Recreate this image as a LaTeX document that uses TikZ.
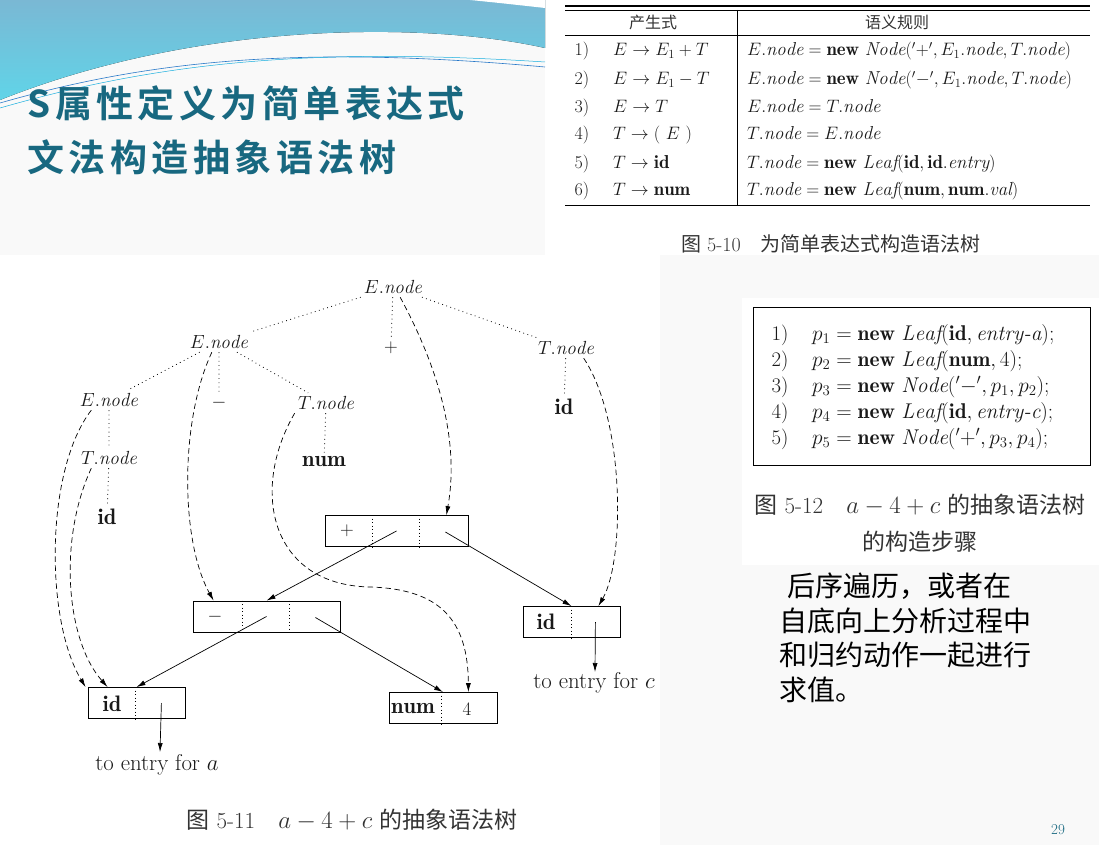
\documentclass[tikz,border=0pt]{standalone}
\usepackage{fontspec}
\usepackage{amsmath}
\usetikzlibrary{arrows.meta,calc}
\newfontfamily\cjk{Noto Sans CJK SC}
\newfontfamily\cjktitle[LetterSpace=12]{Noto Sans CJK SC Bold}
\definecolor{titleteal}{RGB}{24,104,128}
\definecolor{swtop}{RGB}{122,184,212}
\definecolor{swbot}{RGB}{96,212,232}
\definecolor{swline}{RGB}{40,120,200}
\definecolor{paper}{RGB}{249,249,249}

\begin{document}
\begin{tikzpicture}[x=1pt,y=-1pt,
	lbl/.style={font=\fontsize{17.28}{20}\selectfont, scale=1.1, inner sep=3pt, text=black!90},
	blbl/.style={font=\fontsize{20.74}{24}\selectfont, scale=1.08, inner sep=3pt, text=black!90},
	row/.style={font=\fontsize{18}{20}\selectfont, scale=1.04, anchor=base west, inner sep=0pt, text=black!90},
	rnum/.style={font=\fontsize{18}{20}\selectfont, anchor=base, inner sep=0pt, text=black!90},
	crow/.style={font=\fontsize{20.74}{24}\selectfont, scale=1.03, anchor=base west, inner sep=0pt, text=black!90},
	cnum/.style={font=\fontsize{20.74}{24}\selectfont, anchor=base, inner sep=0pt, text=black!90},
	figcap/.style={font=\fontsize{20}{37}\selectfont, text=black!80, align=center},
	tdot/.style={line width=0.8pt, dash pattern=on 0.8pt off 3.5pt},
	tdash/.style={line width=0.7pt, dash pattern=on 5.5pt off 3.5pt, -{Latex[length=9pt,width=5pt]}},
	ptr/.style={line width=0.7pt, -{Latex[length=9pt,width=5pt]}},
	recbox/.style={draw, line width=0.8pt, minimum height=31pt, inner sep=0pt},
	cdiv/.style={line width=0.6pt, dash pattern=on 1pt off 2.5pt}]
	\useasboundingbox (0,0) rectangle (1099,845);

	% page background
	\fill[paper] (0,0) rectangle (545,255);
	\fill[paper] (660,255) rectangle (1099,845);
	\fill[white] (742,298) rectangle (1099,565);
	\fill[top color=swtop, bottom color=swbot] (0,0) -- (545,0) -- (545,48) .. controls (430,22) and (200,20) .. (0,100) -- cycle;
	\fill[white] (470,0) .. controls (500,3) .. (545,8) -- (545,0) -- cycle;
	\draw[swline, line width=0.6pt] (0,103) .. controls (150,60) and (300,45) .. (545,67);
	\draw[swline!60!cyan, line width=0.5pt] (0,108) .. controls (160,62) and (310,47) .. (545,62);

	% title
	\node[anchor=west, font=\cjktitle\fontsize{37}{40}\selectfont, text=titleteal] (title1) at (24,103) {S属性定义为简单表达式};
	\node[anchor=west, font=\cjktitle\fontsize{37}{40}\selectfont, text=titleteal] (title2) at (24,157) {文法构造抽象语法树};

	% table 5-10
	\draw[line width=1.2pt] (565,6) -- (1090,6);
	\draw[line width=0.5pt] (565,10) -- (1090,10);
	\draw[line width=0.6pt] (565,35) -- (1090,35);
	\draw[line width=0.6pt] (737,10) -- (737,205);
	\draw[line width=1pt] (565,205) -- (1090,205);
	\node[font=\cjk\fontsize{16}{18}\selectfont, text=black!80] (h1) at (653,22) {产生式};
	\node[font=\cjk\fontsize{16}{18}\selectfont, text=black!80] (h2) at (897,22) {语义规则};

	\node[rnum] (n1) at (582,56) {1)};
	\node[row] (pr1) at (613,56) {$E \to E_1 + T$};
	\node[row] (ru1) at (747,56) {$E.\mathit{node} = \mathbf{new}\ \mathit{Node}('+', E_1.\mathit{node}, T.\mathit{node})$};
	\node[rnum] (n2) at (582,85) {2)};
	\node[row] (pr2) at (613,85) {$E \to E_1 - T$};
	\node[row] (ru2) at (747,85) {$E.\mathit{node} = \mathbf{new}\ \mathit{Node}('-', E_1.\mathit{node}, T.\mathit{node})$};
	\node[rnum] (n3) at (582,113) {3)};
	\node[row] (pr3) at (613,113) {$E \to T$};
	\node[row] (ru3) at (747,113) {$E.\mathit{node} = T.\mathit{node}$};
	\node[rnum] (n4) at (582,140) {4)};
	\node[row] (pr4) at (613,140) {$T \to (\ E\ )$};
	\node[row] (ru4) at (747,140) {$T.\mathit{node} = E.\mathit{node}$};
	\node[rnum] (n5) at (582,168) {5)};
	\node[row] (pr5) at (613,168) {$T \to \mathbf{id}$};
	\node[row] (ru5) at (747,168) {$T.\mathit{node} = \mathbf{new}\ \mathit{Leaf}(\mathbf{id}, \mathbf{id}.\mathit{entry})$};
	\node[rnum] (n6) at (582,196) {6)};
	\node[row] (pr6) at (613,196) {$T \to \mathbf{num}$};
	\node[row] (ru6) at (747,196) {$T.\mathit{node} = \mathbf{new}\ \mathit{Leaf}(\mathbf{num}, \mathbf{num}.\mathit{val})$};

	\node[figcap] (cap10) at (831,244) {{\cjk 图} 5-10\quad {\cjk 为简单表达式构造语法树}};

	% parse tree 5-11
	\node[lbl] (topE) at (393,287) {$E.\mathit{node}$};
	\node[lbl] (midE) at (219,342) {$E.\mathit{node}$};
	\node[lbl] (pl) at (391,348) {$+$};
	\node[lbl] (Tr) at (566,348) {$T.\mathit{node}$};
	\node[lbl] (Eleft) at (109,400) {$E.\mathit{node}$};
	\node[lbl] (mi) at (219,403) {$-$};
	\node[lbl] (Tmid) at (326,403) {$T.\mathit{node}$};
	\node[lbl] (Tleft) at (109,458) {$T.\mathit{node}$};
	\node[blbl] (numl) at (324,462) {$\mathbf{num}$};
	\node[blbl] (idr) at (564,407) {$\mathbf{id}$};
	\node[blbl] (idl) at (107,517) {$\mathbf{id}$};

	\draw[tdot] (topE) -- (midE);
	\draw[tdot] (topE) -- (pl);
	\draw[tdot] (topE) -- (Tr);
	\draw[tdot] (midE) -- (Eleft);
	\draw[tdot] (midE) -- (mi);
	\draw[tdot] (midE) -- (Tmid);
	\draw[tdot] (Eleft) -- (Tleft);
	\draw[tdot] (Tleft) -- (idl);
	\draw[tdot] (Tmid) -- (numl);
	\draw[tdot] (Tr) -- (idr);

	% syntax tree records
	\node[recbox, minimum width=143pt] (plusb) at (396.5,531) {};
	\node[recbox, minimum width=147pt] (minb) at (266.5,616.5) {};
	\node[recbox, minimum width=97pt] (idcb) at (571.5,622) {};
	\node[recbox, minimum width=97pt] (idab) at (136.5,703) {};
	\node[recbox, minimum width=108pt] (numb) at (443,708) {};
	\draw[cdiv] ($(plusb.north west)+(48,0)$) -- ($(plusb.south west)+(48,0)$);
	\draw[cdiv] ($(plusb.north west)+(95,0)$) -- ($(plusb.south west)+(95,0)$);
	\draw[cdiv] ($(minb.north west)+(50,0)$) -- ($(minb.south west)+(50,0)$);
	\draw[cdiv] ($(minb.north west)+(97,0)$) -- ($(minb.south west)+(97,0)$);
	\draw[cdiv] ($(idcb.north west)+(49,0)$) -- ($(idcb.south west)+(49,0)$);
	\draw[cdiv] ($(idab.north west)+(48,0)$) -- ($(idab.south west)+(48,0)$);
	\draw[cdiv] ($(numb.north west)+(53,0)$) -- ($(numb.south west)+(53,0)$);
	\node[lbl] (plust) at (347,531) {$+$};
	\node[lbl] (mint) at (215,617) {$-$};
	\node[blbl] (idct) at (546,622) {$\mathbf{id}$};
	\node[blbl] (idat) at (112,704) {$\mathbf{id}$};
	\node[blbl] (numt) at (413,709) {$\mathbf{num}$};
	\node[lbl] (fourt) at (467,709) {$4$};

	\draw[ptr] (plusb.center) -- (minb.north);
	\draw[ptr] ($(plusb.east)+(-23,1)$) -- (idcb.north);
	\draw[ptr] (minb.center) -- (idab.north);
	\draw[ptr] ($(minb.east)+(-25,1)$) -- (numb.north);

	\coordinate (toa) at (160,752);
	\coordinate (toc) at (595,672);
	\draw[ptr] ($(idab.east)+(-24,0)$) -- (toa);
	\draw[ptr] ($(idcb.east)+(-25,0)$) -- (toc);
	\node[lbl, font=\fontsize{20.74}{24}\selectfont] (toal) at (157,765) {to entry for $a$};
	\node[lbl, font=\fontsize{20.74}{24}\selectfont] (tocl) at (594,683) {to entry for $c$};

	% pointers from attributes
	\draw[tdash] (topE.-55) .. controls (445,380) and (458,450) .. ($(plusb.north east)+(-22,0)$);
	\draw[tdash] (Tr.-30) .. controls (625,420) and (625,560) .. ($(idcb.north east)+(-22,0)$);
	\draw[tdash] (midE.-125) .. controls (180,420) and (180,540) .. ($(minb.north west)+(21,0)$);
	\draw[tdash] (Eleft.-150) .. controls (45,470) and (45,620) .. ($(idab.north west)+(-2,0)$);
	\draw[tdash] (Tleft.-150) .. controls (58,540) and (66,640) .. ($(idab.north west)+(20,0)$);
	\draw[tdash] (Tmid.south west) .. controls (250,490) and (270,585) .. (370,587) .. controls (440,589) and (468,620) .. ($(numb.north east)+(-29,0)$);

	\node[figcap, font=\fontsize{23}{37}\selectfont] (cap11) at (352,820) {{\cjk 图} 5-11\quad $a-4+c$ {\cjk 的抽象语法树}};

	% steps 5-12
	\node[draw, line width=1pt, minimum width=337pt, minimum height=158pt] (codebox) at (921.5,386) {};
	\node[cnum] (c1) at (780,340) {1)};
	\node[crow] (s1) at (812,340) {$p_1 = \mathbf{new}\ \mathit{Leaf}(\mathbf{id}, \mbox{\itshape entry-a});$};
	\node[cnum] (c2) at (780,366) {2)};
	\node[crow] (s2) at (812,366) {$p_2 = \mathbf{new}\ \mathit{Leaf}(\mathbf{num}, 4);$};
	\node[cnum] (c3) at (780,392) {3)};
	\node[crow] (s3) at (812,392) {$p_3 = \mathbf{new}\ \mathit{Node}('-', p_1, p_2);$};
	\node[cnum] (c4) at (780,418) {4)};
	\node[crow] (s4) at (812,418) {$p_4 = \mathbf{new}\ \mathit{Leaf}(\mathbf{id}, \mbox{\itshape entry-c});$};
	\node[cnum] (c5) at (780,444) {5)};
	\node[crow] (s5) at (812,444) {$p_5 = \mathbf{new}\ \mathit{Node}('+', p_3, p_4);$};

	\node[figcap, font=\fontsize{23}{37}\selectfont] (cap12) at (920,523) {{\cjk 图} 5-12\quad $a-4+c$ {\cjk 的抽象语法树}\\{\cjk 的构造步骤}};

	% note
	\node[anchor=north west, align=left, inner sep=0pt, font=\cjk\fontsize{28}{34.5}\selectfont] (note) at (779,573) {\hspace*{8pt}后序遍历，或者在\\自底向上分析过程中\\和归约动作一起进行\\求值。};

	\node[font=\fontsize{15}{16}\selectfont, text=titleteal] (pg) at (1058,830) {29};
\end{tikzpicture}
\end{document}
